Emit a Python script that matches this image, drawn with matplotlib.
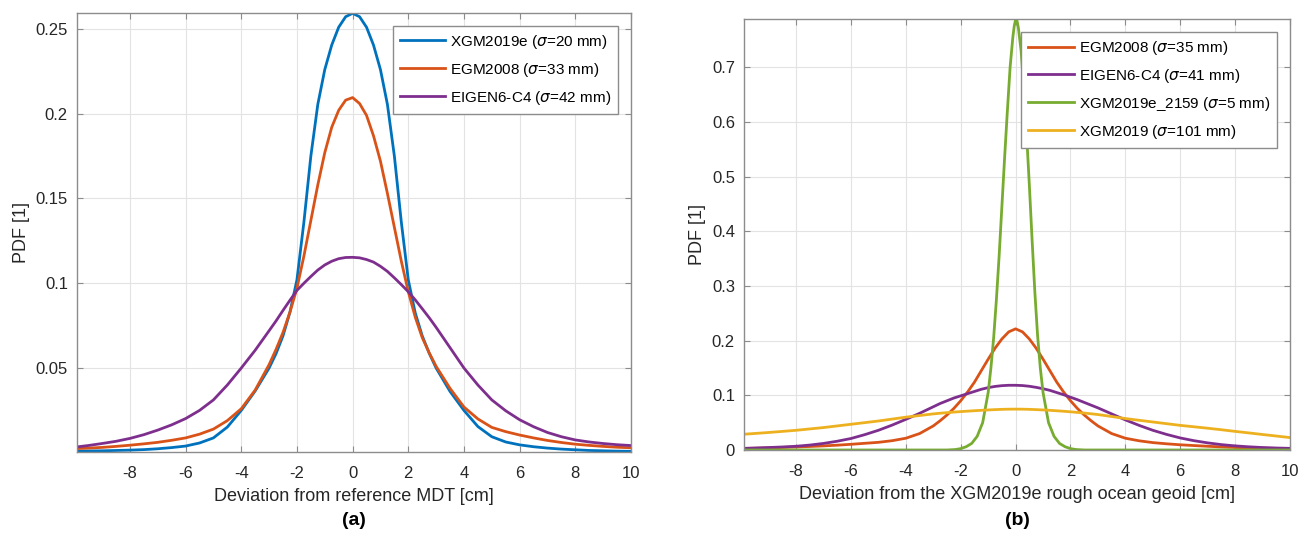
import matplotlib.pyplot as plt

plt.rcParams['font.family'] = ['Liberation Sans', 'DejaVu Sans']
plt.rcParams['axes.unicode_minus'] = False

# (a) deviation from reference MDT [cm] -> PDF
xa = [-9.9, -9.5, -9, -8.5, -8, -7.5, -7, -6.5, -6, -5.5, -5, -4.5, -4, -3.5, -3, -2.75, -2.5, -2.25,
      -2, -1.75, -1.5, -1.25, -1, -0.75, -0.5, -0.25, 0,
      0.25, 0.5, 0.75, 1, 1.25, 1.5, 1.75, 2, 2.25, 2.5, 2.75, 3, 3.5, 4, 4.5, 5, 5.5, 6, 6.5, 7, 7.5,
      8, 8.5, 9, 9.5, 10]
xgm2019e = [0.0010, 0.0011, 0.0012, 0.0014, 0.0016, 0.0019, 0.0024, 0.0031, 0.0040, 0.0058, 0.0088,
            0.0152, 0.0250, 0.0365, 0.0500, 0.0585, 0.0690, 0.0830,
            0.1020, 0.1360, 0.1750, 0.2055, 0.2260, 0.2405, 0.2510, 0.2572, 0.2592,
            0.2572, 0.2510, 0.2405, 0.2260, 0.2055, 0.1750, 0.1360, 0.1020, 0.0825, 0.0690, 0.0588,
            0.0500, 0.0362, 0.0250, 0.0155, 0.0095, 0.0064, 0.0047, 0.0036, 0.0028, 0.0022,
            0.0018, 0.0014, 0.0012, 0.0010, 0.0009]
egm2008_a = [0.0025, 0.0028, 0.0032, 0.0038, 0.0045, 0.0053, 0.0062, 0.0074, 0.0088, 0.0110, 0.0140,
             0.0190, 0.0260, 0.0370, 0.0520, 0.0610, 0.0710, 0.0830,
             0.0970, 0.1160, 0.1370, 0.1580, 0.1770, 0.1920, 0.2020, 0.2080, 0.2095,
             0.2060, 0.1990, 0.1870, 0.1720, 0.1530, 0.1330, 0.1130, 0.0950, 0.0800, 0.0680, 0.0590,
             0.0510, 0.0380, 0.0270, 0.0200, 0.0150, 0.0125, 0.0105, 0.0088, 0.0073, 0.0061,
             0.0051, 0.0044, 0.0038, 0.0033, 0.0030]
eigen6c4_a = [0.0035, 0.0043, 0.0055, 0.0068, 0.0085, 0.0107, 0.0134, 0.0165, 0.0202, 0.0250, 0.0312,
              0.0400, 0.0500, 0.0605, 0.0720, 0.0778, 0.0840, 0.0900,
              0.0958, 0.1000, 0.1040, 0.1078, 0.1108, 0.1130, 0.1145, 0.1152, 0.1153,
              0.1150, 0.1140, 0.1125, 0.1100, 0.1070, 0.1032, 0.0992, 0.0950, 0.0902, 0.0850, 0.0797,
              0.0740, 0.0620, 0.0500, 0.0400, 0.0312, 0.0248, 0.0195, 0.0154, 0.0120, 0.0095,
              0.0076, 0.0064, 0.0055, 0.0048, 0.0043]

# (b) deviation from the XGM2019e rough ocean geoid [cm] -> PDF
xb = xa
egm2008_b = [0.0028, 0.0032, 0.0038, 0.0046, 0.0055, 0.0064, 0.0075, 0.0088, 0.0104, 0.0122, 0.0140,
             0.0170, 0.0215, 0.0300, 0.0440, 0.0535, 0.0640, 0.0760,
             0.0900, 0.1060, 0.1240, 0.1450, 0.1660, 0.1860, 0.2030, 0.2160, 0.2215,
             0.2160, 0.2030, 0.1860, 0.1660, 0.1450, 0.1240, 0.1060, 0.0900, 0.0760, 0.0640, 0.0535,
             0.0440, 0.0300, 0.0215, 0.0168, 0.0135, 0.0113, 0.0095, 0.0081, 0.0068, 0.0056,
             0.0046, 0.0039, 0.0033, 0.0029, 0.0025]
eigen6c4_b = [0.0030, 0.0036, 0.0045, 0.0055, 0.0068, 0.0090, 0.0120, 0.0160, 0.0210, 0.0280, 0.0360,
              0.0455, 0.0560, 0.0670, 0.0790, 0.0850, 0.0900, 0.0950,
              0.0990, 0.1030, 0.1070, 0.1110, 0.1140, 0.1162, 0.1176, 0.1183, 0.1183,
              0.1178, 0.1165, 0.1145, 0.1120, 0.1090, 0.1050, 0.1010, 0.0965, 0.0920, 0.0870, 0.0820,
              0.0770, 0.0660, 0.0550, 0.0450, 0.0360, 0.0285, 0.0220, 0.0170, 0.0130, 0.0098,
              0.0075, 0.0058, 0.0045, 0.0036, 0.0030]
xgm2019 = [0.0288, 0.0302, 0.0320, 0.0340, 0.0360, 0.0385, 0.0410, 0.0440, 0.0470, 0.0500, 0.0530,
           0.0565, 0.0600, 0.0630, 0.0660, 0.0672, 0.0683, 0.0693,
           0.0702, 0.0710, 0.0718, 0.0725, 0.0732, 0.0738, 0.0743, 0.0746, 0.0747,
           0.0746, 0.0743, 0.0738, 0.0732, 0.0725, 0.0717, 0.0708, 0.0698, 0.0687, 0.0675, 0.0662,
           0.0648, 0.0612, 0.0575, 0.0543, 0.0512, 0.0481, 0.0450, 0.0424, 0.0398, 0.0370,
           0.0340, 0.0312, 0.0283, 0.0255, 0.0227]
xg = [-9.9, -4, -2.5, -2.2, -2.0, -1.8, -1.6, -1.4, -1.2, -1.0, -0.9, -0.8, -0.7, -0.6, -0.5, -0.4,
      -0.3, -0.2, -0.1, -0.05, 0, 0.05, 0.1, 0.2, 0.3, 0.4, 0.5, 0.6, 0.7, 0.8, 0.9, 1.0, 1.2, 1.4,
      1.6, 1.8, 2.0, 2.2, 2.5, 4, 10]
xgm2019e_2159 = [0, 0, 0, 0.0008, 0.0025, 0.006, 0.012, 0.025, 0.050, 0.105, 0.150, 0.205, 0.275,
                 0.355, 0.445, 0.535, 0.620, 0.700, 0.755, 0.775, 0.787, 0.785, 0.772, 0.730, 0.662,
                 0.578, 0.485, 0.385, 0.290, 0.210, 0.150, 0.105, 0.050, 0.025, 0.012, 0.006, 0.0025,
                 0.0008, 0, 0, 0]

blue = '#0072BD'
orange = '#D95319'
yellow = '#EDB120'
purple = '#7E2F8E'
green = '#77AC30'
lw = 2.0

fig = plt.figure(figsize=(13.07, 5.43), dpi=100)
ax1 = fig.add_axes([0.0589, 0.1676, 0.4239, 0.8085])
ax2 = fig.add_axes([0.5692, 0.1713, 0.4178, 0.7937])

ax1.plot(xa, xgm2019e, color=blue, lw=lw, label=r'XGM2019e ($\sigma$=20 mm)')
ax1.plot(xa, egm2008_a, color=orange, lw=lw, label=r'EGM2008 ($\sigma$=33 mm)')
ax1.plot(xa, eigen6c4_a, color=purple, lw=lw, label=r'EIGEN6-C4 ($\sigma$=42 mm)')

ax2.plot(xb, egm2008_b, color=orange, lw=lw, label=r'EGM2008 ($\sigma$=35 mm)')
ax2.plot(xb, eigen6c4_b, color=purple, lw=lw, label=r'EIGEN6-C4 ($\sigma$=41 mm)')
ax2.plot(xg, xgm2019e_2159, color=green, lw=lw, label=r'XGM2019e_2159 ($\sigma$=5 mm)')
ax2.plot(xb, xgm2019, color=yellow, lw=lw, label=r'XGM2019 ($\sigma$=101 mm)')

xt = [-8, -6, -4, -2, 0, 2, 4, 6, 8, 10]
ax1.set_xlim(-9.9, 10)
ax1.set_ylim(0.0005, 0.2594)
ax1.set_yticks([0.05, 0.1, 0.15, 0.2, 0.25])
ax1.set_yticklabels(['0.05', '0.1', '0.15', '0.2', '0.25'])
ax1.set_xlabel('Deviation from reference MDT [cm]', fontsize=13, color='#262626', labelpad=5)

ax2.set_xlim(-9.9, 10)
ax2.set_ylim(0, 0.788)
ax2.set_yticks([0, 0.1, 0.2, 0.3, 0.4, 0.5, 0.6, 0.7])
ax2.set_yticklabels(['0', '0.1', '0.2', '0.3', '0.4', '0.5', '0.6', '0.7'])
ax2.set_xlabel('Deviation from the XGM2019e rough ocean geoid [cm]', fontsize=13, color='#262626',
               labelpad=5)

for ax in (ax1, ax2):
    ax.set_xticks(xt)
    ax.set_xticklabels([str(t) for t in xt])
    ax.set_ylabel('PDF [1]', fontsize=13, color='#262626', labelpad=4)
    ax.grid(True, color='#e3e3e3', linewidth=0.8)
    ax.set_axisbelow(True)
    for s in ax.spines.values():
        s.set_color('#8c8c8c')
        s.set_linewidth(1.0)
    ax.tick_params(direction='in', top=True, right=True, length=4, color='#8c8c8c',
                   labelsize=12, labelcolor='#262626')
    ax.tick_params(axis='x', pad=10)
    ax.tick_params(axis='y', pad=6.5)
    leg = ax.legend(loc='upper right', fontsize=11, fancybox=False, edgecolor='#8c8c8c', framealpha=1,
                    handlelength=3, handletextpad=0.3, labelspacing=0.65, borderaxespad=0.85,
                    borderpad=0.45)
    leg.get_frame().set_linewidth(1.0)

fig.text(0.2708, 0.042, '(a)', ha='center', va='center', fontsize=14, fontweight='bold')
fig.text(0.7781, 0.042, '(b)', ha='center', va='center', fontsize=14, fontweight='bold')

fig.savefig('out.png', dpi=100)
